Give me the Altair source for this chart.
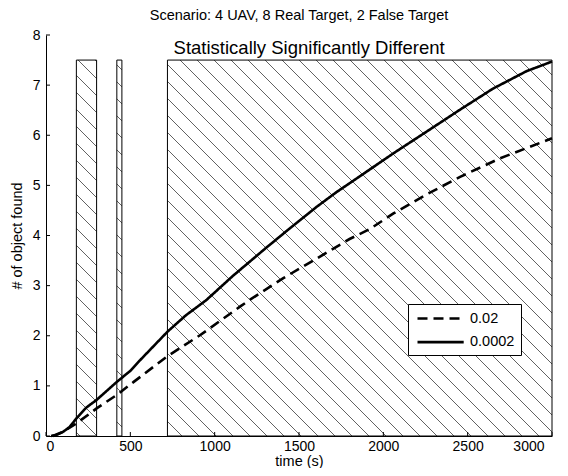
import altair as alt
import pandas as pd
import numpy as np

# ---- data ----
time_solid = [30, 60, 100, 140, 180, 240, 300, 360, 420, 500, 560, 640, 720, 830, 950,
              1110, 1300, 1430, 1600, 1720, 1860, 2060, 2260, 2450, 2650, 2850, 3000]
found_solid = [0, 0.02, 0.08, 0.18, 0.35, 0.57, 0.72, 0.9, 1.08, 1.3, 1.52, 1.8, 2.08, 2.41, 2.71,
               3.2, 3.74, 4.1, 4.56, 4.86, 5.18, 5.64, 6.08, 6.5, 6.93, 7.28, 7.47]
time_dashed = [40, 100, 180, 300, 420, 520, 715, 913, 1150, 1210, 1407, 1605, 1800, 1920,
               2060, 2257, 2455, 2692, 3000]
found_dashed = [0, 0.08, 0.25, 0.55, 0.82, 1.08, 1.58, 2.01, 2.58, 2.72, 3.15, 3.54, 3.93, 4.13,
                4.44, 4.82, 5.17, 5.54, 5.94]
series_labels = ["0.02", "0.0002"]

sig_start = [180, 420, 720]
sig_end = [300, 450, 3000]
sig_top = 7.5

x_ticks = [0, 500, 1000, 1500, 2000, 2500, 3000]
y_ticks = [0, 1, 2, 3, 4, 5, 6, 7, 8]

annot_text = ["Statistically Significantly Different"]
annot_x = [1560]
annot_y = [7.74]

title_text = "Scenario: 4 UAV, 8 Real Target, 2 False Target"

# ---- layout ----
W, H = 506, 401
XMAX, YMAX = 3000, 8
FONT = "Liberation Sans"

lines_df = pd.concat([
    pd.DataFrame({"t": time_dashed, "n": found_dashed, "series": series_labels[0]}),
    pd.DataFrame({"t": time_solid, "n": found_solid, "series": series_labels[1]}),
])
rect_df = pd.DataFrame({"x0": sig_start, "x1": sig_end, "y0": 0, "y1": sig_top})

# hatch segments (45 deg in pixel space), clipped to each significant region
sx, sy = W / XMAX, H / YMAX
spacing = 17.0
segs = []
for a, b in zip(sig_start, sig_end):
    px0, px1, py1 = a * sx, b * sx, sig_top * sy
    kmin = int(np.floor(px0 / spacing))
    kmax = int(np.ceil((px1 + py1) / spacing))
    for k in range(kmin, kmax + 1):
        c = k * spacing
        s = max(px0, c - py1)
        e = min(px1, c)
        if e - s > 0.5:
            segs.append({"xa": s / sx, "ya": (c - s) / sy, "xb": e / sx, "yb": (c - e) / sy})
hatch_df = pd.DataFrame(segs)

xscale = alt.Scale(domain=[0, XMAX], nice=False, zero=False)
yscale = alt.Scale(domain=[0, YMAX], nice=False, zero=False)
xaxis = alt.Axis(
    values=x_ticks, format="d", title="time (s)", tickSize=0, labelPadding=3,
    titlePadding=1, grid=False,
    labelOffset={"condition": {"test": f"datum.value == {XMAX}", "value": -8}, "value": 0},
)
yaxis = alt.Axis(values=y_ticks, format="d", title="# of object found", tickSize=0,
                 labelPadding=6, titlePadding=8, grid=False)

hatch = alt.Chart(hatch_df).mark_rule(color="#3a3a3a", strokeWidth=0.8).encode(
    x=alt.X("xa:Q", scale=xscale, axis=xaxis),
    y=alt.Y("ya:Q", scale=yscale, axis=yaxis),
    x2="xb:Q", y2="yb:Q",
)

rects = alt.Chart(rect_df).mark_rect(fillOpacity=0, stroke="black", strokeWidth=1).encode(
    x=alt.X("x0:Q", scale=xscale, axis=xaxis),
    x2="x1:Q",
    y=alt.Y("y0:Q", scale=yscale, axis=yaxis),
    y2="y1:Q",
)

lines = alt.Chart(lines_df).mark_line(color="black", strokeWidth=2.6).encode(
    x=alt.X("t:Q", scale=xscale, axis=xaxis),
    y=alt.Y("n:Q", scale=yscale, axis=yaxis),
    strokeDash=alt.StrokeDash(
        "series:N",
        scale=alt.Scale(domain=series_labels, range=[[10, 6], [1, 0]]),
        legend=alt.Legend(
            title=None, orient="none", legendX=362, legendY=269,
            symbolType="M-0.714,0H5.886", symbolSize=196, symbolStrokeWidth=2.6,
            symbolStrokeColor="black", labelFontSize=14.5, labelColor="black",
            labelFont=FONT, fillColor="white", strokeColor="black", padding=6,
            rowPadding=8.6, labelOffset=39,
        ),
    ),
    detail="series:N",
)

annot = alt.Chart(pd.DataFrame({"x": annot_x, "y": annot_y, "label": annot_text})).mark_text(
    fontSize=18.5, font=FONT, color="black", baseline="middle", align="center"
).encode(
    x=alt.X("x:Q", scale=xscale, axis=xaxis),
    y=alt.Y("y:Q", scale=yscale, axis=yaxis),
    text="label:N",
)

xtick = alt.Chart(pd.DataFrame({"v": x_ticks})).mark_rule(color="black", strokeWidth=1).encode(
    x=alt.X("v:Q", scale=xscale, axis=xaxis),
    y=alt.value(H), y2=alt.value(H - 4),
)
ytick = alt.Chart(pd.DataFrame({"v": y_ticks})).mark_rule(color="black", strokeWidth=1).encode(
    y=alt.Y("v:Q", scale=yscale, axis=yaxis),
    x=alt.value(0), x2=alt.value(4),
)

chart = alt.layer(hatch, rects, lines, annot, xtick, ytick).properties(
    width=W, height=H,
    title=alt.Title(title_text, fontSize=14.5, fontWeight="normal", font=FONT,
                    anchor="middle", offset=5, color="black"),
    autosize=alt.AutoSizeParams(type="none"),
    padding={"left": 38, "top": 27, "right": 8, "bottom": 32},
).configure_view(stroke=None).configure_axis(
    labelFont=FONT, titleFont=FONT, labelFontSize=14, titleFontSize=14.5,
    titleFontWeight="normal", labelColor="black", titleColor="black",
    domainColor="black", domainWidth=1,
)

chart.save("out.html", embed_options={"renderer": "svg", "actions": False})
